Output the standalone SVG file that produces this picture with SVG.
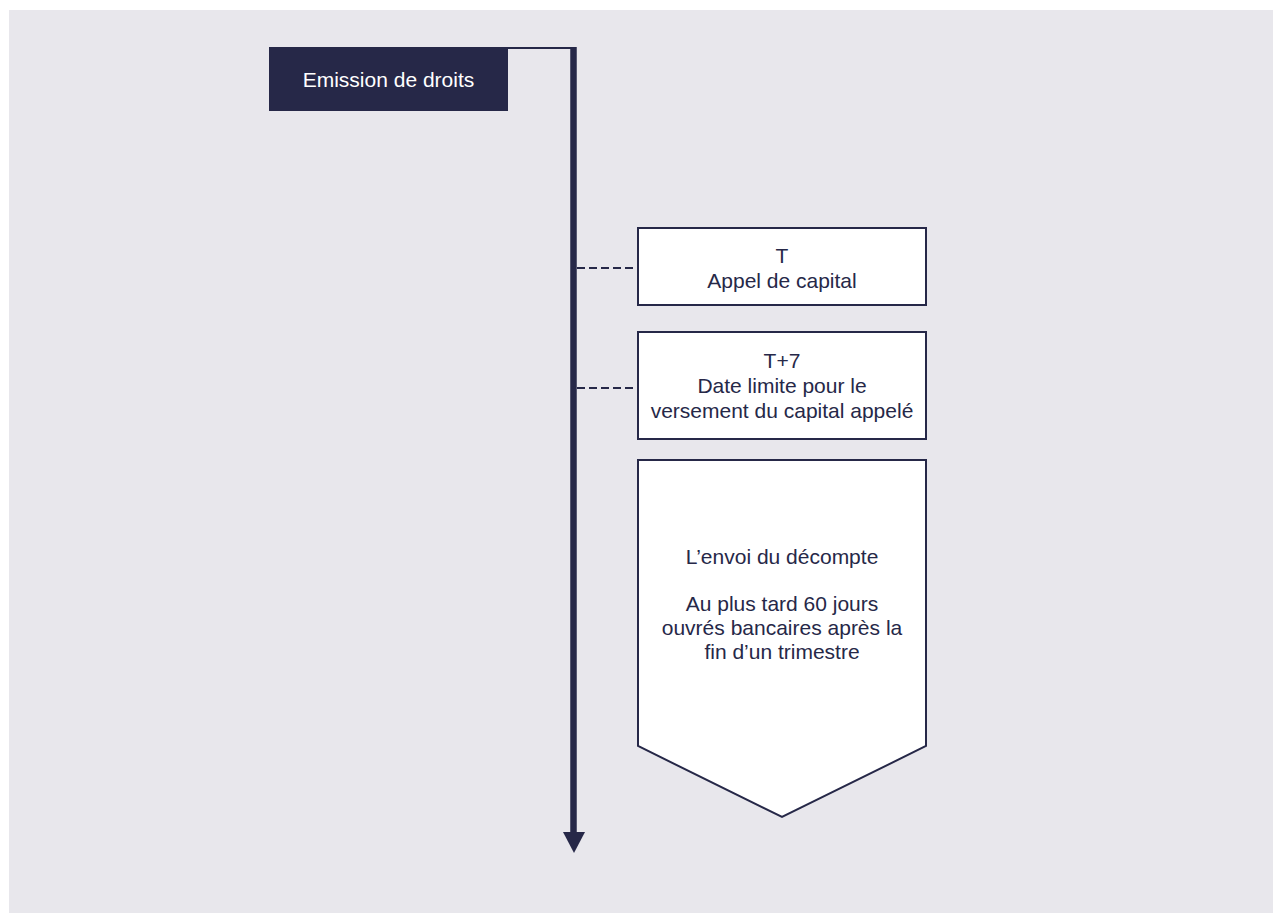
<svg xmlns="http://www.w3.org/2000/svg" width="1273" height="913" viewBox="0 0 1273 913">
<style>
.box{fill:#ffffff;stroke:#262848;stroke-width:2}
.t{font-family:"Liberation Sans",Arial,sans-serif;font-size:21px;fill:#262848;text-anchor:middle}
.dash{stroke:#262848;stroke-width:2;stroke-dasharray:8,4;fill:none}
</style>
<rect x="0" y="0" width="1273" height="913" fill="#ffffff"/>
<rect x="9" y="10" width="1264" height="903" fill="#e8e7ec"/>
<g id="connectors">
<line x1="508" y1="48" x2="574" y2="48" stroke="#262848" stroke-width="2"/>
<line x1="573.5" y1="47" x2="573.5" y2="834" stroke="#262848" stroke-width="6.5"/>
<polygon points="563,832 585,832 574,853" fill="#262848"/>
<line class="dash" x1="577" y1="268" x2="637" y2="268"/>
<line class="dash" x1="577" y1="388" x2="637" y2="388"/>
</g>
<g id="emission">
<rect x="269" y="47" width="239" height="64" fill="#262848"/>
<text class="t" x="388.5" y="87" style="fill:#ffffff">Emission de droits</text>
</g>
<g id="appel">
<rect class="box" x="638" y="228" width="288" height="77"/>
<text class="t" x="782" y="263">T</text>
<text class="t" x="782" y="288">Appel de capital</text>
</g>
<g id="versement">
<rect class="box" x="638" y="332" width="288" height="107"/>
<text class="t" x="782" y="368">T+7</text>
<text class="t" x="782" y="393">Date limite pour le</text>
<text class="t" x="782" y="418">versement du capital appelé</text>
</g>
<g id="decompte">
<polygon class="box" points="638,460 926,460 926,746 782,817 638,746"/>
<text class="t" x="782" y="564">L’envoi du décompte</text>
<text class="t" x="782" y="611">Au plus tard 60 jours</text>
<text class="t" x="782" y="635">ouvrés bancaires après la</text>
<text class="t" x="782" y="659">fin d’un trimestre</text>
</g>
</svg>
